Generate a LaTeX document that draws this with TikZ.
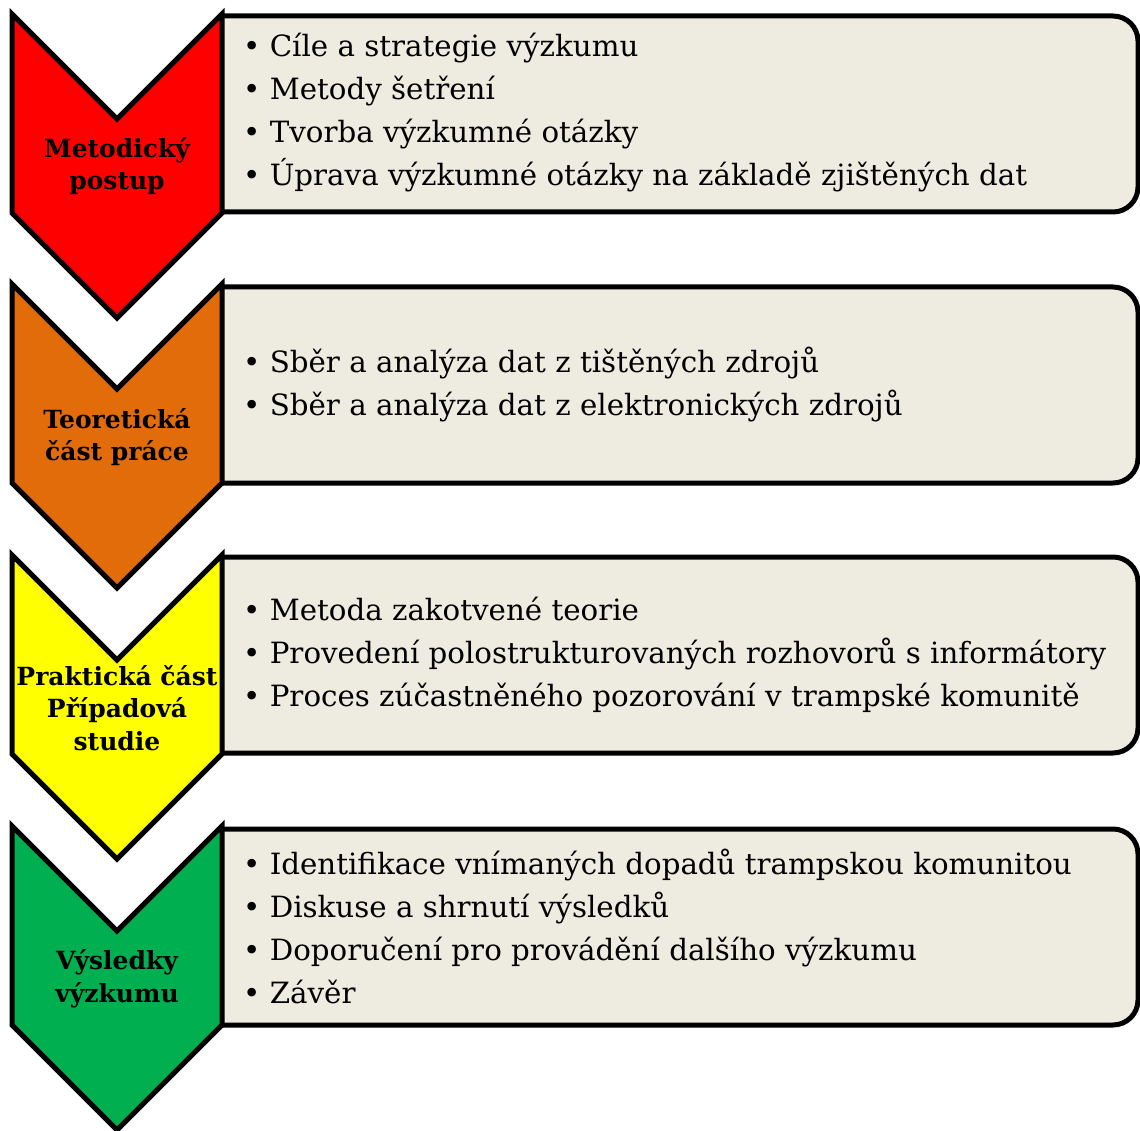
\documentclass[tikz,border=0pt]{standalone}
\usepackage{fontspec}
\setmainfont{DejaVu Serif}
\definecolor{stepred}{HTML}{FF0000}
\definecolor{steporange}{HTML}{E36C0A}
\definecolor{stepyellow}{HTML}{FFFF00}
\definecolor{stepgreen}{HTML}{00B050}
\definecolor{boxtan}{HTML}{EEECE1}
\tikzstyle{chevron} = [draw=black, line width=5pt, line join=miter]
\tikzstyle{infobox} = [draw=black, fill=boxtan, line width=5pt, rounded corners=25pt]
\tikzstyle{title} = [align=center, inner sep=0pt, font=\bfseries\fontsize{25}{32.5}\selectfont]
\tikzstyle{items} = [anchor=west, align=left, inner sep=0pt, font=\fontsize{29.3}{43}\selectfont]

\begin{document}
\begin{tikzpicture}[x=1pt, y=-1pt]
      \useasboundingbox (0,0) rectangle (1140,1131);

      % boxes on the right
      \filldraw [infobox] (222,16) -- (1138,16) -- (1138,212) -- (222,212);
      \filldraw [infobox] (222,287) -- (1138,287) -- (1138,483) -- (222,483);
      \filldraw [infobox] (222,557) -- (1138,557) -- (1138,753) -- (222,753);
      \filldraw [infobox] (222,829) -- (1138,829) -- (1138,1025) -- (222,1025);

      % chevrons
      \filldraw [chevron, fill=stepred] (12,14) -- (117,119) -- (222,14) -- (222,213) -- (117,318) -- (12,213) -- cycle;
      \filldraw [chevron, fill=steporange] (12,284) -- (117,389) -- (222,284) -- (222,483) -- (117,588) -- (12,483) -- cycle;
      \filldraw [chevron, fill=stepyellow] (12,555) -- (117,660) -- (222,555) -- (222,754) -- (117,859) -- (12,754) -- cycle;
      \filldraw [chevron, fill=stepgreen] (12,826) -- (117,931) -- (222,826) -- (222,1025) -- (117,1130) -- (12,1025) -- cycle;

      \node (lab1) [title] at (117,166) {Metodický\\postup};
      \node (lab2) [title] at (117,437) {Teoretická\\část práce};
      \node (lab3) [title] at (117,708) {Praktická část\\Případová\\studie};
      \node (lab4) [title] at (117,979) {Výsledky\\výzkumu};

      \node (box1) [items] at (243,113) {• Cíle a strategie výzkumu\\• Metody šetření\\• Tvorba výzkumné otázky\\• Úprava výzkumné otázky na základě zjištěných dat};
      \node (box2) [items] at (243,385) {• Sběr a analýza dat z tištěných zdrojů\\• Sběr a analýza dat z elektronických zdrojů};
      \node (box3) [items] at (243,655) {• Metoda zakotvené teorie\\• Provedení polostrukturovaných rozhovorů s informátory\\• Proces zúčastněného pozorování v trampské komunitě};
      \node (box4) [items] at (243,926) {• Identifikace vnímaných dopadů trampskou komunitou\\• Diskuse a shrnutí výsledků\\• Doporučení pro provádění dalšího výzkumu\\• Závěr};
\end{tikzpicture}
\end{document}
